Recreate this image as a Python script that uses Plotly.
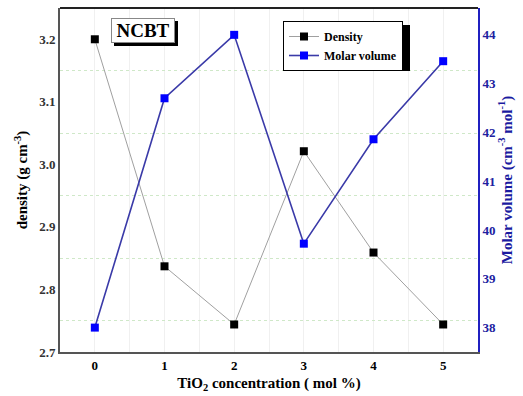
import plotly.graph_objects as go

tio2 = [0, 1, 2, 3, 4, 5]
density = [3.20, 2.837, 2.744, 3.021, 2.859, 2.744]
molar_volume = [38.0, 42.70, 44.0, 39.72, 41.86, 43.46]

W, H = 523, 396
L, R, T, B = 60, 478, 8, 352
FONT = "Liberation Serif"

def px(x):
    return (x - L) / (R - L)

def py(y):
    return (B - y) / (B - T)

fig = go.Figure()
fig.add_trace(go.Scatter(
    x=tio2, y=density, name="<b>Density</b>", mode="lines+markers",
    line=dict(color="#a0a0a0", width=1),
    marker=dict(symbol="square", size=8, color="black"),
    yaxis="y"))
fig.add_trace(go.Scatter(
    x=tio2, y=molar_volume, name="<b>Molar volume</b>", mode="lines+markers",
    line=dict(color="#3a3aa8", width=1.6),
    marker=dict(symbol="square", size=8, color="#0000ff"),
    yaxis="y2"))

shapes = [
    # NCBT shadow
    dict(type="rect", xref="paper", yref="paper", layer="above",
         x0=px(114), x1=px(178), y0=py(46), y1=py(21),
         fillcolor="black", line=dict(width=0)),
    # legend shadow
    dict(type="rect", xref="paper", yref="paper", layer="above",
         x0=px(287), x1=px(410), y0=py(71), y1=py(25),
         fillcolor="black", line=dict(width=0)),
    # top frame
    dict(type="line", xref="paper", yref="paper", x0=0, x1=1, y0=1, y1=1,
         line=dict(color="#222222", width=2), layer="above"),
]

fig.update_layout(
    width=W, height=H,
    margin=dict(l=L, r=W - R, t=T, b=H - B, autoexpand=False),
    paper_bgcolor="white", plot_bgcolor="white",
    font=dict(family=FONT, color="black", size=12),
    showlegend=True,
    legend=dict(x=px(283), y=py(21), xanchor="left", yanchor="top",
                bgcolor="white", bordercolor="black", borderwidth=1,
                font=dict(family=FONT, size=12, color="black"),
                tracegroupgap=0, itemwidth=30),
    xaxis=dict(range=[-0.5, 5.5], tickvals=tio2,
               ticktext=["<b>%d</b>" % v for v in tio2], ticks="",
               showgrid=False,
               minor=dict(dtick=0.5, tick0=0.5, showgrid=True,
                          gridcolor="#f0f0f0", gridwidth=1),
               showline=True, linecolor="#555555", linewidth=2, mirror=False,
               tickfont=dict(family=FONT, size=13, color="black"),
               title=dict(text="<b>TiO<sub>2</sub> concentration ( mol %)</b>",
                          font=dict(family=FONT, size=15, color="black"),
                          standoff=6),
               zeroline=False, automargin=False),
    yaxis=dict(range=[2.7, 3.25], tickvals=[2.7, 2.8, 2.9, 3.0, 3.1, 3.2],
               ticktext=["<b>2.7</b>", "<b>2.8</b>", "<b>2.9</b>", "<b>3.0</b>",
                         "<b>3.1</b>", "<b>3.2</b>"],
               ticks="", showgrid=False,
               minor=dict(tickvals=[2.75, 2.85, 2.95, 3.05, 3.15], showgrid=True,
                          gridcolor="#cfe8c8", griddash="dot", gridwidth=1.2),
               showline=True, linecolor="#555555", linewidth=2,
               tickfont=dict(family=FONT, size=13, color="#333333"),
               title=dict(text="<b>density (g cm<sup>-3</sup>)</b>",
                          font=dict(family=FONT, size=15, color="black"),
                          standoff=8),
               zeroline=False, automargin=False),
    yaxis2=dict(range=[37.5, 44.55], tickvals=[38, 39, 40, 41, 42, 43, 44],
                ticktext=["<b>%d</b>" % v for v in [38, 39, 40, 41, 42, 43, 44]],
                overlaying="y", side="right", ticks="", showgrid=False,
                showline=True, linecolor="#2020c0", linewidth=2,
                tickfont=dict(family=FONT, size=13, color="#2020a0"),
                title=dict(text="<b>Molar volume (cm<sup>-3</sup> mol<sup>-1</sup>)</b>",
                           font=dict(family=FONT, size=15, color="#1a1aa0"),
                           standoff=6),
                zeroline=False, automargin=False),
    shapes=shapes,
    annotations=[
        dict(text="<b>NCBT</b>", xref="paper", yref="paper",
             x=px(143), y=py(30.5), xanchor="center", yanchor="middle",
             showarrow=False, bgcolor="white", bordercolor="#888888",
             borderwidth=1, borderpad=1, width=60, height=21,
             font=dict(family=FONT, size=19, color="black")),
    ],
)

fig.write_html("out.html", config={"displayModeBar": False},
               post_script="document.body.style.margin='0';document.body.style.padding='0';")
